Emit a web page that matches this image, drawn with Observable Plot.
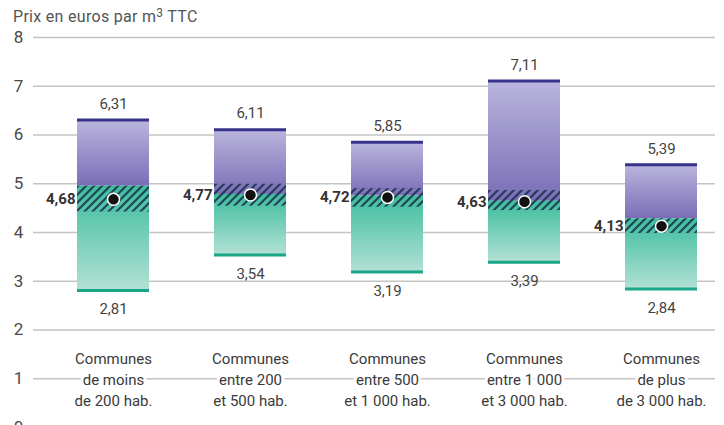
<!DOCTYPE html>
<html><head><meta charset="utf-8">
<script src="https://cdn.jsdelivr.net/npm/d3@7"></script>
<script src="https://cdn.jsdelivr.net/npm/@observablehq/plot@0.6"></script>
<style>
html,body{margin:0;padding:0;background:#fff;}
#wrap{position:relative;width:724px;height:425px;overflow:hidden;}
#title{position:absolute;left:13px;top:7px;font-family:Roboto,"Liberation Sans",sans-serif;font-size:16px;color:#555;letter-spacing:0.3px;}
#title sup{font-size:12px;vertical-align:5px;line-height:0;}
</style></head>
<body>
<svg width="0" height="0" style="position:absolute">
  <defs>
    <linearGradient id="gradPurple" x1="0" y1="0" x2="0" y2="1">
      <stop offset="0" stop-color="#bab6dd"/>
      <stop offset="1" stop-color="#7a6db6"/>
    </linearGradient>
    <linearGradient id="gradGreen" x1="0" y1="0" x2="0" y2="1">
      <stop offset="0" stop-color="#3dbd9d"/>
      <stop offset="1" stop-color="#b2e1d5"/>
    </linearGradient>
    <pattern id="hatch" patternUnits="userSpaceOnUse" width="8" height="8">
      <path d="M-2,2 L2,-2 M0,8 L8,0 M6,10 L10,6" stroke="#17304a" stroke-width="2.2" stroke-opacity="0.85"/>
    </pattern>
  </defs>
</svg>
<div id="wrap"><div id="title">Prix en euros par m<sup>3</sup> TTC</div></div>
<script>
const categories = [
  "Communes\nde moins\nde 200 hab.",
  "Communes\nentre 200\net 500 hab.",
  "Communes\nentre 500\net 1 000 hab.",
  "Communes\nentre 1 000\net 3 000 hab.",
  "Communes\nde plus\nde 3 000 hab."
];
const maxValues = [6.31, 6.11, 5.85, 7.11, 5.39];
const minValues = [2.81, 3.54, 3.19, 3.39, 2.84];
const meanValues = [4.68, 4.77, 4.72, 4.63, 4.13];
const splitValues = [4.95, 4.78, 4.75, 4.64, 4.28];
const hatchLow = [4.42, 4.54, 4.52, 4.45, 3.98];
const hatchHigh = [4.95, 4.99, 4.90, 4.86, 4.28];
const yTicks = [0, 1, 2, 3, 4, 5, 6, 7, 8];

const data = categories.map((c, i) => ({
  cat: c, max: maxValues[i], min: minValues[i], mean: meanValues[i],
  split: splitValues[i], lo: hatchLow[i], hi: hatchHigh[i]
}));
const fr = d3.formatLocale({decimal: ",", thousands: " ", grouping: [3], currency: ["", " €"]});
const f2 = fr.format(".2f");
const font = "Roboto, 'Liberation Sans', sans-serif";

const chart = Plot.plot({
  width: 724,
  height: 425,
  marginTop: 37,
  marginBottom: -2,
  marginLeft: 33,
  marginRight: 9,
  style: {fontFamily: font, background: "transparent", overflow: "visible"},
  x: {domain: categories, range: [44.5, 729.5], paddingInner: 0.474, paddingOuter: 0.237, axis: null},
  y: {domain: [0, 8], axis: null},
  marks: [
    Plot.ruleY(yTicks, {stroke: "#c4c4c4", strokeWidth: 1.5}),
    Plot.text(yTicks, {y: d => d, text: d => String(d), frameAnchor: "left", dx: -15, textAnchor: "middle", fontSize: 17, fill: "#4a4a4a"}),
    Plot.barY(data, {x: "cat", y1: "split", y2: "max", fill: "url(#gradPurple)"}),
    Plot.barY(data, {x: "cat", y1: "min", y2: "split", fill: "url(#gradGreen)"}),
    Plot.barY(data, {x: "cat", y1: "lo", y2: "hi", fill: "url(#hatch)"}),
    Plot.tickY(data, {x: "cat", y: "max", stroke: "#37338c", strokeWidth: 3}),
    Plot.tickY(data, {x: "cat", y: "min", stroke: "#19a588", strokeWidth: 3}),
    Plot.dot(data, {x: "cat", y: "mean", r: 6, fill: "#111", stroke: "#fff", strokeWidth: 1.5}),
    Plot.text(data, {x: "cat", y: "max", text: d => f2(d.max), dy: -16, fontSize: 15, fill: "#444"}),
    Plot.text(data, {x: "cat", y: "min", text: d => f2(d.min), dy: 19, fontSize: 15, fill: "#444"}),
    Plot.text(data, {x: "cat", y: "mean", text: d => f2(d.mean), dx: -38, textAnchor: "end", fontSize: 15, fontWeight: "bold", fill: "#333"}),
    Plot.text(data, {x: "cat", y: 1, text: "cat", lineAnchor: "middle", lineHeight: 1.4, fontSize: 15, fill: "#3a3a3a", stroke: "#fff", strokeWidth: 6})
  ]
});
document.getElementById("wrap").prepend(chart);
chart.style.position = "absolute";
chart.style.left = "0";
chart.style.top = "0";
document.getElementById("title").style.zIndex = "2";
</script>
</body></html>
